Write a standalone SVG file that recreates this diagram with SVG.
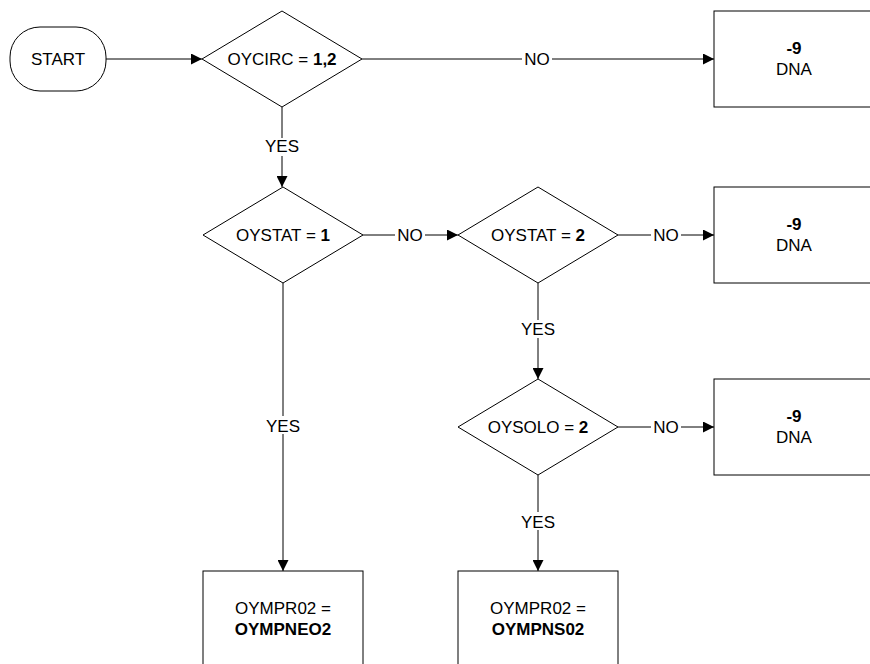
<svg xmlns="http://www.w3.org/2000/svg" width="870" height="664" viewBox="0 0 870 664">
<style>
.s{fill:#fff;stroke:#000;stroke-width:1}
.t{font-family:"Liberation Sans",Arial,sans-serif;font-size:17px;fill:#000;text-anchor:middle}
.b{font-weight:bold}
.c{fill:none;stroke:#000;stroke-width:1}
.lb{fill:#fff}
</style>
<defs>
<marker id="a" viewBox="0 0 10 10" refX="10" refY="5" markerWidth="11" markerHeight="11" markerUnits="userSpaceOnUse" orient="auto">
<path d="M0,0 L10,5 L0,10 z" fill="#000"/>
</marker>
</defs>
<rect width="870" height="664" fill="#fff"/>
<g id="connectors">
<line class="c" x1="106" y1="59" x2="202" y2="59" marker-end="url(#a)"/>
<line class="c" x1="362" y1="59" x2="714" y2="59" marker-end="url(#a)"/>
<line class="c" x1="282" y1="107" x2="282" y2="187" marker-end="url(#a)"/>
<line class="c" x1="363" y1="235" x2="458" y2="235" marker-end="url(#a)"/>
<line class="c" x1="618" y1="235" x2="714" y2="235" marker-end="url(#a)"/>
<line class="c" x1="283" y1="283" x2="283" y2="571" marker-end="url(#a)"/>
<line class="c" x1="538" y1="283" x2="538" y2="379" marker-end="url(#a)"/>
<line class="c" x1="618" y1="427" x2="714" y2="427" marker-end="url(#a)"/>
<line class="c" x1="538" y1="475" x2="538" y2="571" marker-end="url(#a)"/>
<rect class="lb" x="522" y="50" width="30" height="18"/>
<text class="t" x="537" y="65">NO</text>
<rect class="lb" x="262" y="138" width="40" height="18"/>
<text class="t" x="282" y="152">YES</text>
<rect class="lb" x="395" y="226" width="30" height="18"/>
<text class="t" x="410" y="241">NO</text>
<rect class="lb" x="651" y="226" width="30" height="18"/>
<text class="t" x="666" y="241">NO</text>
<rect class="lb" x="518" y="320" width="40" height="18"/>
<text class="t" x="538" y="335">YES</text>
<rect class="lb" x="263" y="416" width="40" height="18"/>
<text class="t" x="283" y="432">YES</text>
<rect class="lb" x="651" y="418" width="30" height="18"/>
<text class="t" x="666" y="433">NO</text>
<rect class="lb" x="518" y="512" width="40" height="18"/>
<text class="t" x="538" y="528">YES</text>
</g>
<g id="start">
<rect class="s" x="10" y="27" width="96" height="64" rx="30" ry="30"/>
<text class="t" x="58" y="65">START</text>
</g>
<g id="d1">
<polygon class="s" points="282,11 362,59 282,107 202,59"/>
<text class="t" x="282" y="65">OYCIRC = <tspan class="b">1,2</tspan></text>
</g>
<g id="dna1">
<rect class="s" x="714" y="11" width="160" height="96"/>
<text class="t b" x="794" y="54">-9</text>
<text class="t" x="794" y="75">DNA</text>
</g>
<g id="d2">
<polygon class="s" points="283,187 363,235 283,283 203,235"/>
<text class="t" x="283" y="241">OYSTAT = <tspan class="b">1</tspan></text>
</g>
<g id="d3">
<polygon class="s" points="538,187 618,235 538,283 458,235"/>
<text class="t" x="538" y="241">OYSTAT = <tspan class="b">2</tspan></text>
</g>
<g id="dna2">
<rect class="s" x="714" y="187" width="160" height="96"/>
<text class="t b" x="794" y="230">-9</text>
<text class="t" x="794" y="251">DNA</text>
</g>
<g id="d4">
<polygon class="s" points="538,379 618,427 538,475 458,427"/>
<text class="t" x="538" y="433">OYSOLO = <tspan class="b">2</tspan></text>
</g>
<g id="dna3">
<rect class="s" x="714" y="379" width="160" height="96"/>
<text class="t b" x="794" y="422">-9</text>
<text class="t" x="794" y="443">DNA</text>
</g>
<g id="box1">
<rect class="s" x="203" y="571" width="160" height="96"/>
<text class="t" x="283" y="614">OYMPR02 =</text>
<text class="t b" x="283" y="635">OYMPNEO2</text>
</g>
<g id="box2">
<rect class="s" x="458" y="571" width="160" height="96"/>
<text class="t" x="538" y="614">OYMPR02 =</text>
<text class="t b" x="538" y="635">OYMPNS02</text>
</g>
</svg>
